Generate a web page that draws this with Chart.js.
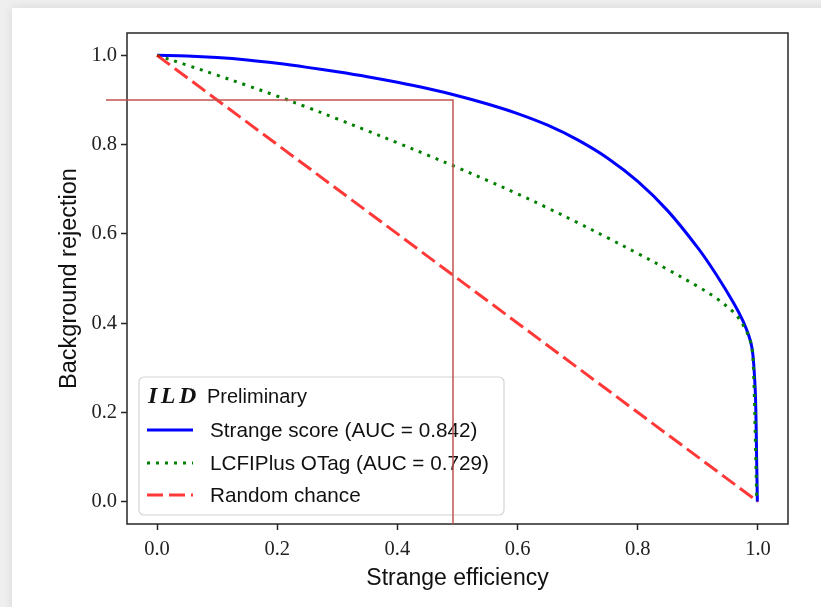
<!DOCTYPE html>
<html><head><meta charset="utf-8">
<script src="https://cdn.jsdelivr.net/npm/chart.js@4.4.1/dist/chart.umd.min.js"></script>
<style>
html,body{margin:0;padding:0;background:#efefef;width:821px;height:607px;overflow:hidden;}
#card{position:absolute;left:12px;top:8px;width:860px;height:660px;background:#fff;box-shadow:0 0 10px rgba(0,0,0,0.10);}
#wrap{position:absolute;left:0;top:0;width:821px;height:607px;}
</style></head><body><div id="card"></div><div id="wrap"><canvas id="c" width="821" height="607"></canvas></div>
<script>
// ---- data ----
const effStrange = [0,0.05,0.1,0.15,0.2,0.25,0.3,0.35,0.4,0.45,0.5,0.55,0.6,0.65,0.7,0.75,0.8,0.85,0.9,0.93,0.96,0.975,0.985,0.99,0.993,0.996,0.998,0.999];
const rejStrange = [1,0.9985,0.995,0.9895,0.982,0.973,0.963,0.952,0.9395,0.9255,0.9095,0.891,0.8695,0.8435,0.8105,0.7695,0.7175,0.6515,0.5685,0.510,0.444,0.405,0.371,0.345,0.307,0.23,0.08,0.0];
const effLcfi = [0,0.05,0.1,0.15,0.2,0.25,0.3,0.35,0.4,0.45,0.5,0.55,0.6,0.65,0.7,0.75,0.8,0.85,0.9,0.93,0.96,0.975,0.985,0.99,0.993,0.996,0.998];
const rejLcfi = [1,0.978,0.9555,0.9325,0.9085,0.8835,0.8575,0.831,0.804,0.7765,0.7485,0.7195,0.6895,0.658,0.625,0.591,0.556,0.520,0.482,0.4565,0.4235,0.3965,0.3685,0.3435,0.28,0.12,0.0];
const effRandom = [0,1];
const rejRandom = [1,0];
const seriesLabels = ['Strange score (AUC = 0.842)','LCFIPlus OTag (AUC = 0.729)','Random chance'];
const legendTitleBold = 'ILD';
const legendTitleRest = 'Preliminary';
const xTickValues = [0,0.2,0.4,0.6,0.8,1.0];
const xTickLabels = ['0.0','0.2','0.4','0.6','0.8','1.0'];
const yTickValues = [0,0.2,0.4,0.6,0.8,1.0];
const yTickLabels = ['0.0','0.2','0.4','0.6','0.8','1.0'];
const cutEff = 0.4925;
const cutRej = 0.9;
const cutLineStart = -0.085;

const pts = (xs, ys) => xs.map((x, i) => ({x: x, y: ys[i]}));

const SANS = '"Liberation Sans", Arial, sans-serif';
const SERIF = '"Liberation Serif", "Times New Roman", serif';

const overlay = {
  id: 'overlay',
  afterDatasetsDraw(chart) {
    const ctx = chart.ctx, a = chart.chartArea;
    const xs = chart.scales.x, ys = chart.scales.y;
    ctx.save();
    // frame
    ctx.strokeStyle = '#262626'; ctx.lineWidth = 1.5;
    ctx.strokeRect(a.left, a.top, a.right - a.left, a.bottom - a.top);
    // legend box
    const bx = a.left + 12, by = a.bottom - 147, bw = 365, bh = 138;
    ctx.beginPath();
    ctx.roundRect(bx, by, bw, bh, 5);
    ctx.fillStyle = 'rgba(255,255,255,0.8)'; ctx.fill();
    ctx.strokeStyle = '#d4d4d4'; ctx.lineWidth = 1.2; ctx.stroke();
    // title
    ctx.fillStyle = '#111'; ctx.textBaseline = 'middle'; ctx.textAlign = 'left';
    ctx.font = 'italic bold 24px ' + SERIF;
    try { ctx.letterSpacing = '3.5px'; } catch(e) {}
    ctx.fillText(legendTitleBold, bx + 9, by + 20);
    try { ctx.letterSpacing = '0px'; } catch(e) {}
    ctx.font = '20px ' + SANS;
    ctx.fillText(legendTitleRest, bx + 68, by + 20);
    // entries
    const rows = [by + 53, by + 86, by + 118];
    chart.data.datasets.forEach((ds, i) => {
      const y = rows[i];
      ctx.beginPath();
      ctx.strokeStyle = ds.borderColor; ctx.lineWidth = ds.borderWidth;
      ctx.setLineDash(ds.borderDash || []);
      ctx.moveTo(bx + 8, y); ctx.lineTo(bx + 54, y); ctx.stroke();
      ctx.setLineDash([]);
      ctx.fillStyle = '#111'; ctx.font = '20.7px ' + SANS;
      ctx.fillText(seriesLabels[i], bx + 71, y + 1);
    });
    // cut lines
    const px = xs.getPixelForValue(cutEff), py = ys.getPixelForValue(cutRej);
    ctx.strokeStyle = '#c25450'; ctx.lineWidth = 1.5;
    ctx.beginPath();
    ctx.moveTo(xs.getPixelForValue(cutLineStart), py);
    ctx.lineTo(px, py);
    ctx.lineTo(px, a.bottom);
    ctx.stroke();
    ctx.restore();
  }
};

new Chart(document.getElementById('c'), {
  type: 'scatter',
  data: {
    datasets: [
      {data: pts(effStrange, rejStrange), showLine: true, borderColor: '#0000ff', borderWidth: 3, pointRadius: 0, tension: 0.35, order: 3},
      {data: pts(effLcfi, rejLcfi), showLine: true, borderColor: '#008000', borderWidth: 3, borderDash: [3, 6], pointRadius: 0, tension: 0.35, order: 2},
      {data: pts(effRandom, rejRandom), showLine: true, borderColor: 'rgba(255,0,0,0.78)', borderWidth: 3, borderDash: [16, 6], pointRadius: 0, order: 1}
    ]
  },
  options: {
    responsive: false, animation: false, devicePixelRatio: 1,
    layout: {padding: {left: 0, right: 33, top: 33, bottom: 0}},
    plugins: {legend: {display: false}, tooltip: {enabled: false}},
    scales: {
      x: {
        type: 'linear', min: -0.05, max: 1.05,
        afterFit: s => { s.height = 83; },
        afterBuildTicks: s => { s.ticks = xTickValues.map(v => ({value: v})); },
        ticks: {callback: (v, i) => xTickLabels[i], color: '#222', padding: 7, maxRotation: 0, autoSkip: false, font: {family: SERIF, size: 20.5}},
        grid: {drawOnChartArea: false, drawTicks: true, tickLength: 6, tickWidth: 1.5, tickColor: '#262626'},
        border: {display: false},
        title: {display: true, text: 'Strange efficiency', color: '#111', font: {family: SANS, size: 23}, padding: {top: 0, bottom: 15}}
      },
      y: {
        type: 'linear', min: -0.05, max: 1.05,
        afterFit: s => { s.width = 127; },
        afterBuildTicks: s => { s.ticks = yTickValues.map(v => ({value: v})); },
        ticks: {callback: (v, i) => yTickLabels[i], color: '#222', padding: 4, autoSkip: false, font: {family: SERIF, size: 20.5}},
        grid: {drawOnChartArea: false, drawTicks: true, tickLength: 6, tickWidth: 1.5, tickColor: '#262626'},
        border: {display: false},
        title: {display: true, text: 'Background rejection', color: '#111', font: {family: SANS, size: 23.5}, padding: {top: 55, bottom: 0}}
      }
    }
  },
  plugins: [overlay]
});
</script></body></html>
